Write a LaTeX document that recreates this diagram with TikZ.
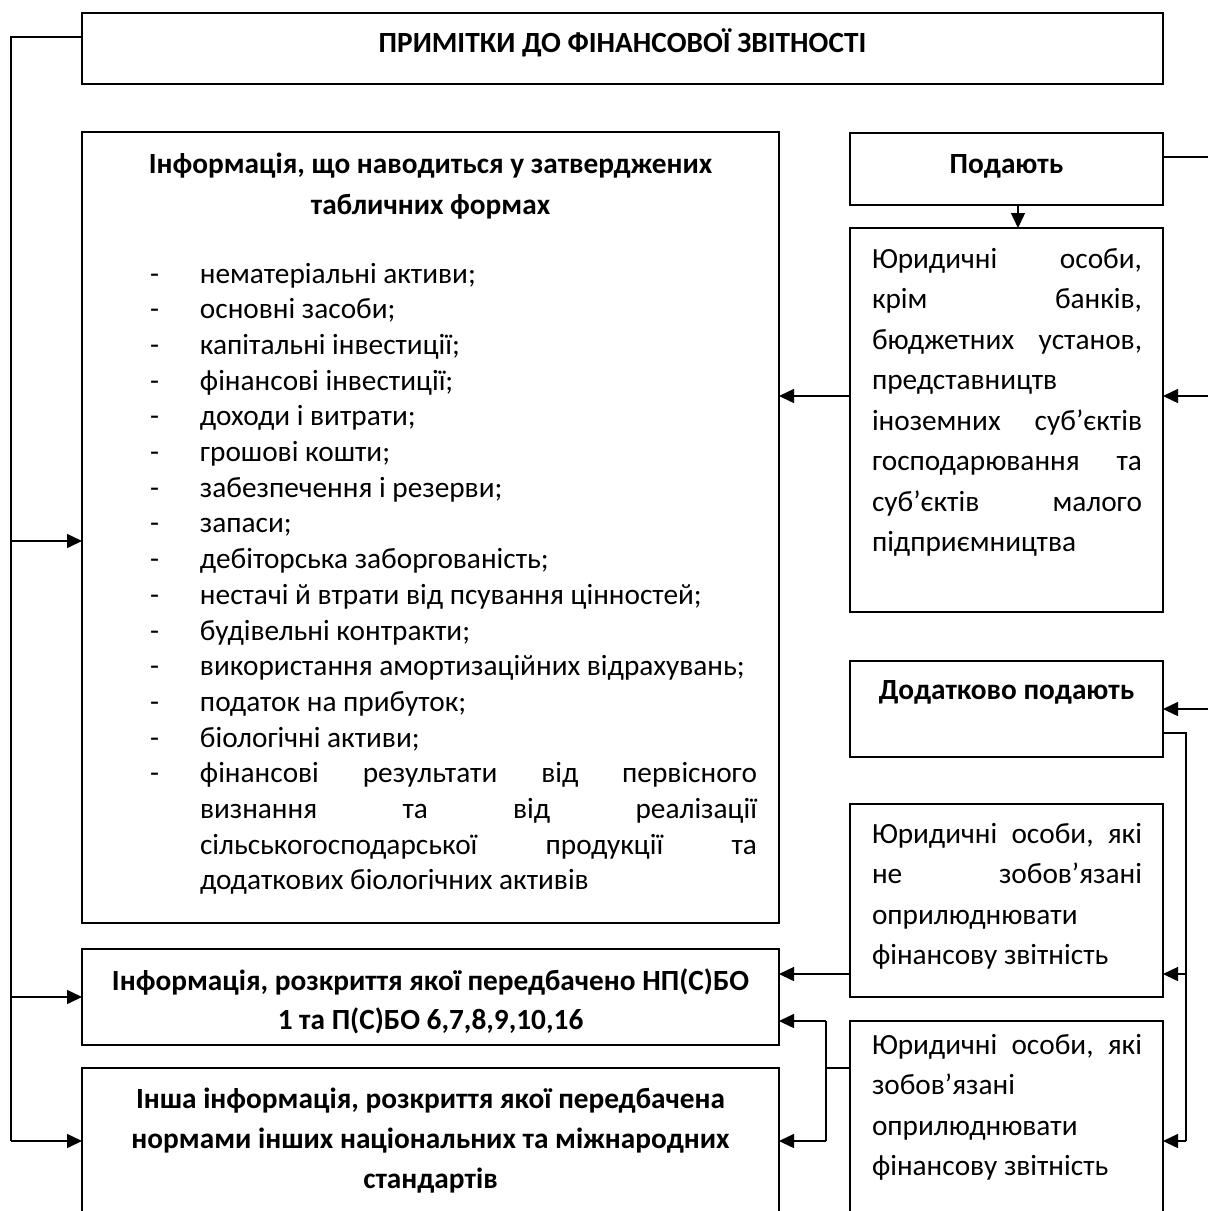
\documentclass[tikz,border=0pt]{standalone}
\usepackage{fontspec}
\setmainfont{Carlito}
\usetikzlibrary{arrows.meta}
\newcommand{\tbox}[3]{\parbox[t]{#1}{\fontsize{29.3}{#2}\selectfont #3}}
\begin{document}
\begin{tikzpicture}[x=1pt,y=-1pt,
  box/.style={draw,line width=1.8pt,inner sep=0pt,outer sep=0pt,anchor=north west},
  txt/.style={inner sep=0pt,outer sep=0pt,anchor=base west},
  ctxt/.style={inner sep=0pt,outer sep=0pt,anchor=base,font=\fontsize{29.3}{40}\selectfont\bfseries},
  conn/.style={line width=1.5pt},
  arr/.style={conn,-{Triangle[length=15pt,width=14pt]}}]
\useasboundingbox (0,0) rectangle (1208,1211);

% boxes
\node[box,minimum width=1081pt,minimum height=71pt]  (top) at (82,13) {};
\node[box,minimum width=697pt,minimum height=791pt]  (big) at (82,132) {};
\node[box,minimum width=697pt,minimum height=96pt]   (b3)  at (82,949) {};
\node[box,minimum width=697pt,minimum height=200pt]  (b4)  at (82,1068) {};
\node[box,minimum width=313pt,minimum height=72pt]   (pod) at (850,133) {};
\node[box,minimum width=313pt,minimum height=384pt]  (b2)  at (850,228) {};
\node[box,minimum width=313pt,minimum height=96pt]   (dod) at (850,661) {};
\node[box,minimum width=313pt,minimum height=193pt]  (b5)  at (850,804) {};
\node[box,minimum width=313pt,minimum height=250pt]  (b6)  at (850,1021) {};

% texts
\node[ctxt] (ttop) at (622.5,52) {ПРИМІТКИ ДО ФІНАНСОВОЇ ЗВІТНОСТІ};
\node[ctxt] (bt1) at (430.5,173) {Інформація, що наводиться у затверджених};
\node[ctxt] (bt2) at (430.5,214.5) {табличних формах};
\node[txt] (list) at (150,283) {\tbox{607pt}{35.7pt}{%
\makebox[50pt][l]{-}нематеріальні активи;\\
\makebox[50pt][l]{-}основні засоби;\\
\makebox[50pt][l]{-}капітальні інвестиції;\\
\makebox[50pt][l]{-}фінансові інвестиції;\\
\makebox[50pt][l]{-}доходи і витрати;\\
\makebox[50pt][l]{-}грошові кошти;\\
\makebox[50pt][l]{-}забезпечення і резерви;\\
\makebox[50pt][l]{-}запаси;\\
\makebox[50pt][l]{-}дебіторська заборгованість;\\
\makebox[50pt][l]{-}нестачі й втрати від псування цінностей;\\
\makebox[50pt][l]{-}будівельні контракти;\\
\makebox[50pt][l]{-}використання амортизаційних відрахувань;\\
\makebox[50pt][l]{-}податок на прибуток;\\
\makebox[50pt][l]{-}біологічні активи;\\
\makebox[50pt][l]{-}фінансові\hfill результати\hfill від\hfill первісного\\
\hspace*{50pt}визнання\hfill та\hfill від\hfill реалізації\\
\hspace*{50pt}сільськогосподарської\hfill продукції\hfill та\\
\hspace*{50pt}додаткових біологічних активів}};

\node[ctxt] (pt) at (1006.5,173) {Подають};
\node[txt] (b2t) at (872,268) {\tbox{270pt}{40.5pt}{%
Юридичні\hfill особи,\\
крім\hfill банків,\\
бюджетних\hfill установ,\\
представництв\\
іноземних\hfill суб’єктів\\
господарювання\hfill та\\
суб’єктів\hfill малого\\
підприємництва}};
\node[ctxt] (dt) at (1006.5,699) {Додатково подають};
\node[txt] (b5t) at (872,843) {\tbox{270pt}{40.5pt}{%
Юридичні\hfill особи,\hfill які\\
не\hfill зобов’язані\\
оприлюднювати\\
фінансову звітність}};
\node[txt] (b6t) at (872,1054) {\tbox{270pt}{40.5pt}{%
Юридичні\hfill особи,\hfill які\\
зобов’язані\\
оприлюднювати\\
фінансову звітність}};
\node[ctxt] (b3t1) at (430.5,990) {Інформація, розкриття якої передбачено НП(С)БО};
\node[ctxt] (b3t2) at (430.5,1029) {1 та П(С)БО 6,7,8,9,10,16};
\node[ctxt] (b4t1) at (430.5,1108) {Інша інформація, розкриття якої передбачена};
\node[ctxt] (b4t2) at (430.5,1148) {нормами інших національних та міжнародних};
\node[ctxt] (b4t3) at (430.5,1188) {стандартів};

% helper coordinates
\coordinate (lx) at (11,0);
\coordinate (rx) at (1216,0);
\coordinate (mx) at (826,0);
\coordinate (dx) at (1186,0);
\coordinate (px) at (1018,0);
\coordinate (y37) at (0,37);
\coordinate (y157) at (0,157);
\coordinate (y396) at (0,396);
\coordinate (y541) at (0,541);
\coordinate (y709) at (0,709);
\coordinate (y733) at (0,733);
\coordinate (y974) at (0,974);
\coordinate (y1021) at (0,1021);
\coordinate (y1068) at (0,1068);
\coordinate (y1141) at (0,1141);

% left trunk
\draw[conn] (top.west |- y37) -| (lx |- y1141);
\draw[arr] (lx |- y541) -- (big.west |- y541);
\draw[arr] (lx |- b3.west) -- (b3.west);
\draw[arr] (lx |- y1141) -- (b4.west |- y1141);

% right side
\draw[conn] (pod.east |- y157) -| (rx |- y709);
\draw[arr] (rx |- y396) -- (b2.east |- y396);
\draw[arr] (rx |- y709) -- (dod.east |- y709);
\draw[arr] (px |- pod.south) -- (px |- b2.north);
\draw[arr] (b2.west |- y396) -- (big.east |- y396);
\draw[conn,line width=1.2pt] (dod.east |- y733) -| (dx |- y1141);
\draw[arr] (dx |- y974) -- (b5.east |- y974);
\draw[arr] (dx |- y1141) -- (b6.east |- y1141);
\draw[arr] (b5.west |- y974) -- (b3.east |- y974);
\draw[conn] (b6.west |- y1068) -- (mx |- y1068);
\draw[conn] (mx |- y1021) -- (mx |- y1141);
\draw[arr] (mx |- y1021) -- (b3.east |- y1021);
\draw[arr] (mx |- y1141) -- (b4.east |- y1141);
\end{tikzpicture}
\end{document}
